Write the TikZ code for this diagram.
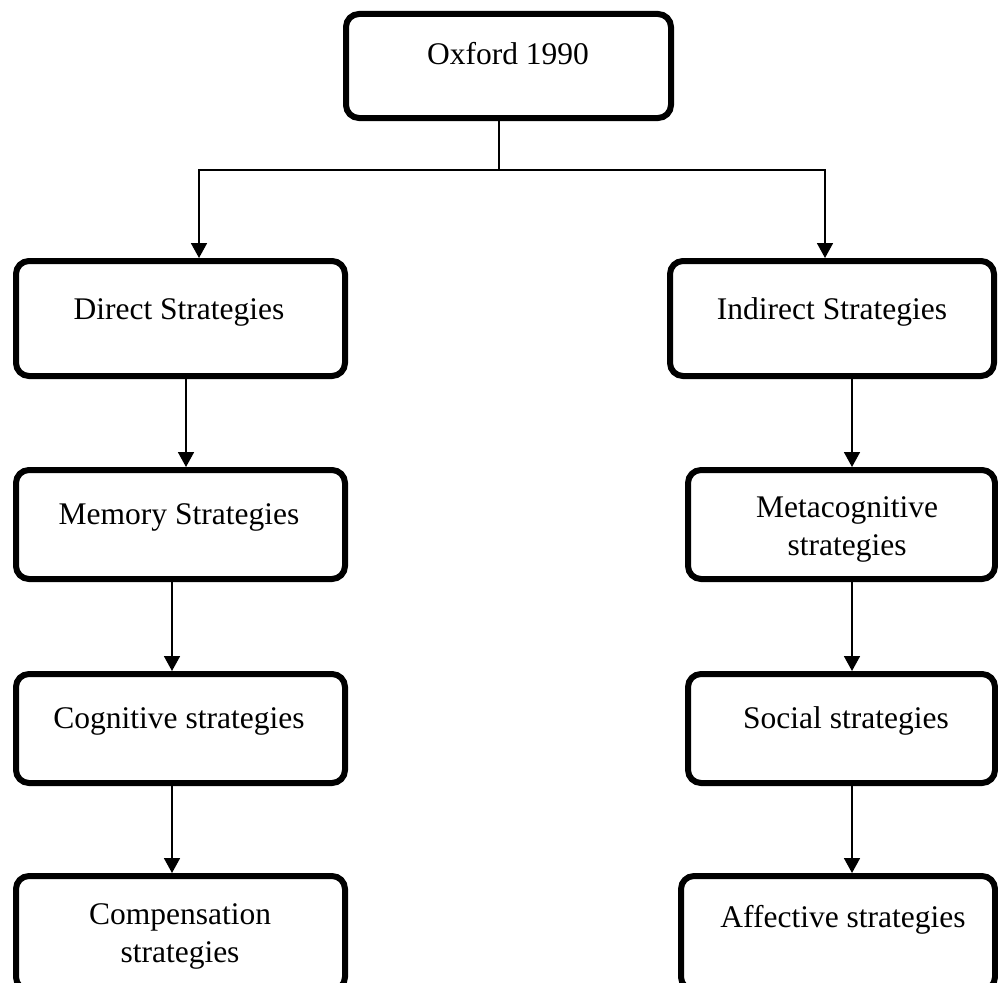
\documentclass[tikz,border=0pt]{standalone}
\usepackage{fontspec}
\setmainfont{Liberation Serif}
\usetikzlibrary{arrows.meta}
\begin{document}
\begin{tikzpicture}[x=1pt,y=-1pt,
  box/.style={draw, line width=6pt, rounded corners=13pt, inner sep=0pt, fill=white},
  txt/.style={anchor=base, font=\fontsize{31.5}{38}\selectfont, inner sep=0pt},
  arr/.style={line width=1.8pt, -{Triangle[width=16pt,length=15pt]}},
  conn/.style={line width=1.6pt}]
\useasboundingbox (0,0) rectangle (998,982);
\clip (0,0) rectangle (998,982);
% boxes
\node[box, minimum width=325pt, minimum height=104pt] (ox) at (508.5,66) {};
\node[txt] (oxt) at (508,65) {Oxford 1990};
\node[box, minimum width=329pt, minimum height=115pt] (dir) at (180.5,318.5) {};
\node[txt] (dirt) at (179,319) {Direct Strategies};
\node[box, minimum width=324pt, minimum height=115pt] (ind) at (832,318.5) {};
\node[txt] (indt) at (832,319) {Indirect Strategies};
\node[box, minimum width=329pt, minimum height=109pt] (mem) at (180.5,524.5) {};
\node[txt] (memt) at (179,524) {Memory Strategies};
\node[box, minimum width=307pt, minimum height=109pt] (met) at (841.5,524.5) {};
\node[txt] (mett1) at (847,517) {Metacognitive};
\node[txt] (mett2) at (847,555) {strategies};
\node[box, minimum width=329pt, minimum height=109pt] (cog) at (180.5,728.5) {};
\node[txt] (cogt) at (179,728) {Cognitive strategies};
\node[box, minimum width=307pt, minimum height=109pt] (soc) at (841.5,728.5) {};
\node[txt] (soct) at (846,728) {Social strategies};
\node[box, minimum width=329pt, minimum height=114pt] (com) at (180.5,933) {};
\node[txt] (comt1) at (180,924) {Compensation};
\node[txt] (comt2) at (180,962) {strategies};
\node[box, minimum width=314pt, minimum height=114pt] (aff) at (838,933) {};
\node[txt] (afft) at (843,927) {Affective strategies};
% connectors
\coordinate (j) at (499,170);
\coordinate (jl) at (199,170);
\coordinate (jr) at (825,170);
\draw[conn] (ox.south -| j) -- (j);
\draw[arr] (j) -- (jl) -- (dir.north -| jl);
\draw[arr] (j) -- (jr) -- (ind.north -| jr);
\coordinate (a1) at (186,0);
\coordinate (a2) at (172,0);
\coordinate (b1) at (852,0);
\draw[arr] (dir.south -| a1) -- (mem.north -| a1);
\draw[arr] (mem.south -| a2) -- (cog.north -| a2);
\draw[arr] (cog.south -| a2) -- (com.north -| a2);
\draw[arr] (ind.south -| b1) -- (met.north -| b1);
\draw[arr] (met.south -| b1) -- (soc.north -| b1);
\draw[arr] (soc.south -| b1) -- (aff.north -| b1);
\end{tikzpicture}
\end{document}
